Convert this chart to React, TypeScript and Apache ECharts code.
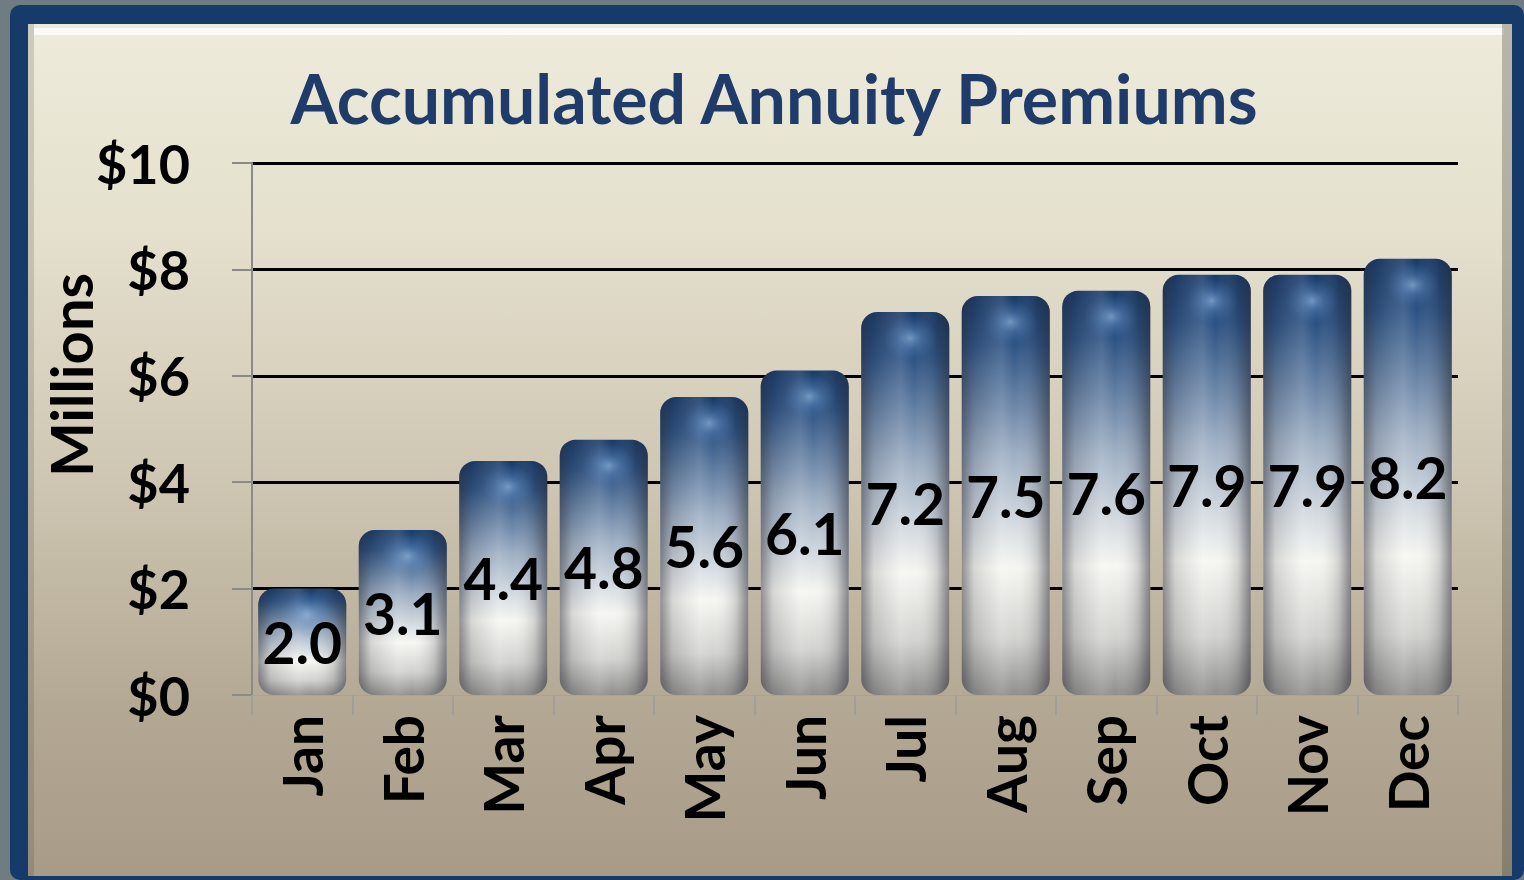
import React, { useEffect, useRef } from "react";
import * as echarts from "echarts";

const months = ["Jan", "Feb", "Mar", "Apr", "May", "Jun", "Jul", "Aug", "Sep", "Oct", "Nov", "Dec"];
const premiums = [2.0, 3.1, 4.4, 4.8, 5.6, 6.1, 7.2, 7.5, 7.6, 7.9, 7.9, 8.2];
const yTicks = { min: 0, max: 10, interval: 2 };
const titleText = "Accumulated Annuity Premiums";
const yAxisName = "Millions";

const FONT = "Lato, 'Open Sans', sans-serif";

export default function App() {
  const ref = useRef<HTMLDivElement>(null);
  useEffect(() => {
    if (!ref.current) return;
    const chart = echarts.init(ref.current, undefined, { renderer: "svg" });
    const vGrad = new echarts.graphic.LinearGradient(0, 0, 0, 1, [
      { offset: 0, color: "#193b69" },
      { offset: 0.12, color: "#2c5283" },
      { offset: 0.4, color: "#9fb0c4" },
      { offset: 0.68, color: "#f6f6f2" },
      { offset: 0.86, color: "#d2d2cf" },
      { offset: 1, color: "#8e8e8c" },
    ]);
    const hGrad = new echarts.graphic.LinearGradient(0, 0, 1, 0, [
      { offset: 0, color: "rgba(40,40,50,0.5)" },
      { offset: 0.14, color: "rgba(40,40,50,0.15)" },
      { offset: 0.45, color: "rgba(255,255,255,0.12)" },
      { offset: 0.6, color: "rgba(255,255,255,0)" },
      { offset: 0.86, color: "rgba(40,40,50,0.18)" },
      { offset: 1, color: "rgba(40,40,50,0.55)" },
    ]);
    const spot = new echarts.graphic.RadialGradient(0.5, 0.5, 0.5, [
      { offset: 0, color: "rgba(165,200,240,0.75)" },
      { offset: 0.45, color: "rgba(120,165,220,0.35)" },
      { offset: 1, color: "rgba(80,130,200,0)" },
    ]);
    chart.setOption({
      animation: false,
      graphic: [
        { type: "rect", z: -20, shape: { x: 0, y: 0, width: 1524, height: 880 }, style: { fill: "#6f7d82" } },
        { type: "rect", z: -19, shape: { x: 10, y: 5, width: 1514, height: 875, r: 10 }, style: { fill: "#163b6b" } },
        {
          type: "rect",
          z: -18,
          shape: { x: 28, y: 24, width: 1484, height: 852 },
          style: {
            fill: new echarts.graphic.LinearGradient(0, 0, 0, 1, [
              { offset: 0, color: "#eeebdb" },
              { offset: 0.25, color: "#e4e0cd" },
              { offset: 0.55, color: "#cdc5b1" },
              { offset: 0.8, color: "#b3a894" },
              { offset: 1, color: "#a89c89" },
            ]),
          },
        },
        { type: "rect", z: -17, shape: { x: 34, y: 28, width: 1470, height: 7 }, style: { fill: "rgba(255,255,255,0.75)" } },
        { type: "rect", z: -17, shape: { x: 28, y: 24, width: 6, height: 852 }, style: { fill: "rgba(60,60,50,0.18)" } },
        { type: "rect", z: -17, shape: { x: 1502, y: 24, width: 10, height: 852 }, style: { fill: "rgba(60,60,50,0.3)" } },
        {
          type: "text",
          z: 5,
          x: 70,
          y: 375,
          rotation: Math.PI / 2,
          style: {
            text: yAxisName,
            fontFamily: FONT,
            fontWeight: "bold",
            fontSize: 58,
            fill: "#000",
            align: "center",
            verticalAlign: "middle",
          },
        },
      ],
      title: {
        text: titleText,
        left: 769,
        top: 58,
        textAlign: "center",
        textStyle: { fontFamily: FONT, fontWeight: "bold", fontSize: 68, color: "#1e3b6a" },
      },
      grid: { left: 252, right: 66, top: 163, bottom: 185, containLabel: false },
      xAxis: {
        type: "category",
        data: months,
        axisLine: { show: true, lineStyle: { color: "#a5a39a", width: 1 } },
        axisTick: { show: true, length: 20, lineStyle: { color: "#a09e98", width: 2 } },
        axisLabel: {
          rotate: 90,
          margin: 20,
          fontFamily: FONT,
          fontWeight: "bold",
          fontSize: 55,
          color: "#000",
        },
      },
      yAxis: {
        type: "value",
        min: yTicks.min,
        max: yTicks.max,
        interval: yTicks.interval,
        axisLine: { show: true, lineStyle: { color: "#8a8a86", width: 2 } },
        axisTick: { show: true, length: 20, lineStyle: { color: "#8a8a86", width: 2 } },
        axisLabel: {
          margin: 62,
          fontFamily: FONT,
          fontWeight: "bold",
          fontSize: 54,
          color: "#000",
          formatter: (v: number) => "$" + v,
        },
        splitLine: { show: true, showMinLine: false, lineStyle: { color: "#000", width: 3 } },
      },
      series: [
        {
          type: "bar",
          data: premiums,
          barWidth: 88,
          itemStyle: { color: vGrad, borderRadius: 16 },
          z: 2,
        },
        {
          type: "bar",
          data: premiums,
          barWidth: 88,
          barGap: "-100%",
          itemStyle: { color: hGrad, borderRadius: 16 },
          z: 3,
        },
        {
          type: "scatter",
          data: premiums,
          symbol: "circle",
          symbolSize: [54, 46],
          symbolOffset: [5, 26],
          itemStyle: { color: spot },
          silent: true,
          z: 4,
        },
        {
          type: "bar",
          data: premiums,
          barWidth: 88,
          barGap: "-100%",
          itemStyle: { color: "rgba(0,0,0,0)" },
          z: 5,
          label: {
            show: true,
            position: "inside",
            fontFamily: FONT,
            fontWeight: "bold",
            fontSize: 57,
            color: "#000",
            formatter: (p: any) => Number(p.value).toFixed(1),
          },
        },
      ],
    });
    return () => chart.dispose();
  }, []);
  return <div ref={ref} style={{ position: "absolute", left: 0, top: 0, width: 1524, height: 880 }} />;
}
